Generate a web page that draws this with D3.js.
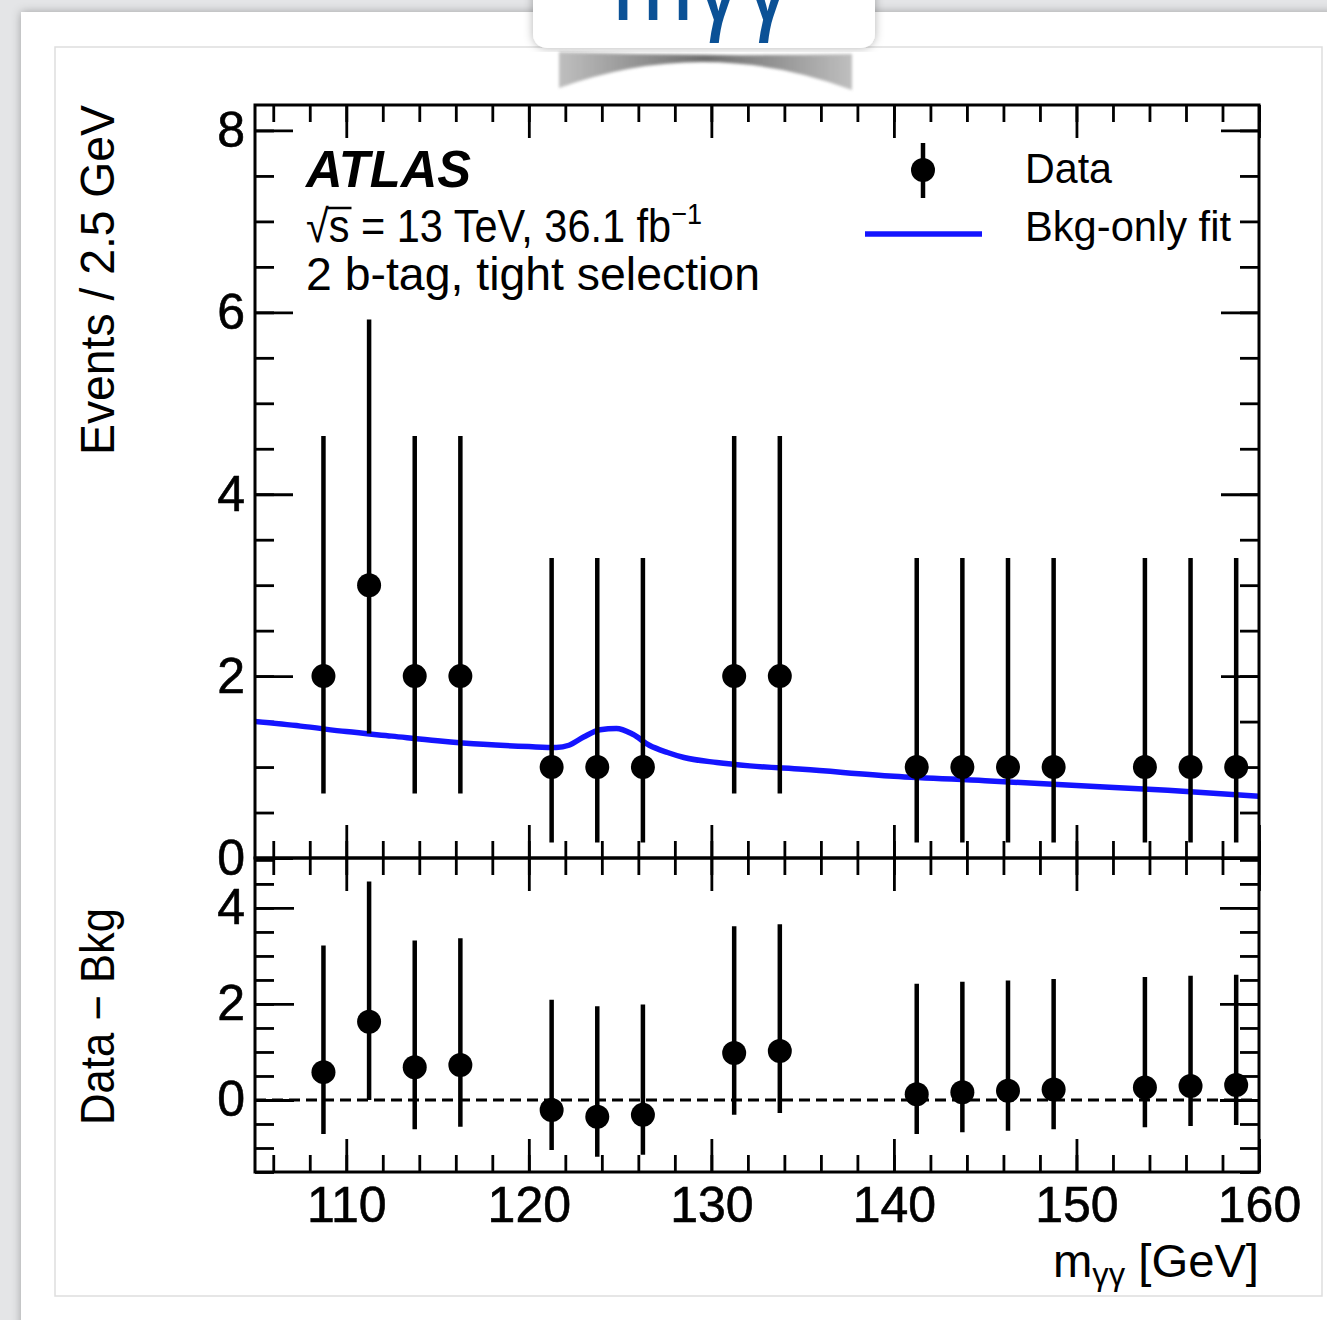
<!DOCTYPE html>
<html>
<head>
<meta charset="utf-8">
<script src="https://cdn.jsdelivr.net/npm/d3@7"></script>
<style>
  body { margin: 0; background: #e4e5e7; }
  svg { display: block; }
</style>
</head>
<body>
<div id="chart"></div>
<script>
// data points per 2.5 GeV bin (empty bins are not drawn)
const binCenters = [108.75, 111.25, 113.75, 116.25, 121.25, 123.75, 126.25, 131.25, 133.75,
                    141.25, 143.75, 146.25, 148.75, 153.75, 156.25, 158.75];
const counts = [2, 3, 2, 2, 1, 1, 1, 2, 2, 1, 1, 1, 1, 1, 1, 1];
const errDown = [1.29, 1.63, 1.29, 1.29, 0.83, 0.83, 0.83, 1.29, 1.29, 0.83, 0.83, 0.83, 0.83, 0.83, 0.83, 0.83];
const errUp = [2.64, 2.92, 2.64, 2.64, 2.30, 2.30, 2.30, 2.64, 2.64, 2.30, 2.30, 2.30, 2.30, 2.30, 2.30, 2.30];
// lower panel: data - bkg
const dataMinusBkg = [0.58, 1.63, 0.68, 0.73, -0.21, -0.35, -0.31, 0.98, 1.02,
                      0.12, 0.16, 0.19, 0.22, 0.26, 0.29, 0.31];
// background-only fit
const fitMass = [105, 107.5, 110, 112.5, 115, 117.5, 120, 121.5, 122.2, 123, 123.9, 124.8, 125.7,
                 126.6, 127.6, 128.5, 130.3, 132.1, 135, 140, 145, 150, 155, 160];
const fitValue = [1.50, 1.45, 1.39, 1.34, 1.29, 1.25, 1.225, 1.215, 1.24, 1.33, 1.41, 1.425, 1.36,
                  1.24, 1.16, 1.105, 1.05, 1.013, 0.975, 0.90, 0.85, 0.797, 0.745, 0.68];

const xTicks = [110, 120, 130, 140, 150, 160];
const yTicksMain = [0, 2, 4, 6, 8];
const yTicksRatio = [0, 2, 4];

const FONT = '"Liberation Sans", Arial, Helvetica, sans-serif';
const W = 1327, H = 1320;
const padLeft = 255, padRight = 1259, padTop = 105, padSplit = 858, padBottom = 1172;

const svg = d3.select('#chart').append('svg')
  .attr('width', W)
  .attr('height', H)
  .style('font-family', FONT);

const defs = svg.append('defs');
const shadow = defs.append('filter').attr('id', 'shadow')
  .attr('x', '-5%').attr('y', '-5%').attr('width', '110%').attr('height', '110%');
shadow.append('feDropShadow').attr('dx', 0).attr('dy', 0)
  .attr('stdDeviation', 5).attr('flood-color', '#000').attr('flood-opacity', 0.3);
const soft = defs.append('filter').attr('id', 'soft');
soft.append('feGaussianBlur').attr('stdDeviation', 1.5);
const grad = defs.append('linearGradient').attr('id', 'tabShade');
grad.append('stop').attr('offset', '0%').attr('stop-color', '#b4b4b4');
grad.append('stop').attr('offset', '50%').attr('stop-color', '#555');
grad.append('stop').attr('offset', '100%').attr('stop-color', '#b4b4b4');
defs.append('clipPath').attr('id', 'mainClip')
  .append('rect').attr('x', padLeft).attr('y', padTop)
  .attr('width', padRight - padLeft).attr('height', padSplit - padTop);

// slide background, card and inner frame
svg.append('rect').attr('width', W).attr('height', H).attr('fill', '#e4e5e7');
svg.append('rect').attr('x', 21).attr('y', 12).attr('width', 1340).attr('height', 1340)
  .attr('fill', '#fff').attr('filter', 'url(#shadow)');
svg.append('rect').attr('x', 55).attr('y', 47).attr('width', 1267).attr('height', 1249)
  .attr('fill', '#fff').attr('stroke', '#dedede').attr('stroke-width', 1.5);

// title tab (cut off at the top)
svg.append('path')
  .attr('d', 'M559,52 Q705,57 852,54 L852,90 Q705,35 559,88 Z')
  .attr('fill', 'url(#tabShade)').attr('opacity', 0.85).attr('filter', 'url(#soft)');
svg.append('rect').attr('x', 533).attr('y', -20).attr('width', 342).attr('height', 68).attr('rx', 14)
  .attr('fill', '#fff').attr('filter', 'url(#shadow)');
svg.append('text').attr('x', 612).attr('y', 20)
  .attr('font-size', 110).attr('fill', '#0b5196')
  .attr('textLength', 180).attr('lengthAdjust', 'spacingAndGlyphs')
  .text('mγγ');

// scales
const x = d3.scaleLinear().domain([105, 160]).range([padLeft, padRight]);
const yMain = d3.scaleLinear().domain([0, 8.28]).range([padSplit, padTop]);
const yRatio = d3.scaleLinear().domain([-1.5, 5.04]).range([padBottom, padSplit]);

function styleAxis(g) {
  g.select('.domain').remove();
  g.attr('font-family', FONT).attr('font-size', 50);
  g.selectAll('line').attr('stroke', '#000').attr('stroke-width', 2.8);
  g.selectAll('text').attr('fill', '#000').attr('stroke', '#000').attr('stroke-width', 0.6);
}

function drawAxes(yScale, yTicks, yMinor, yLen, showXLabels) {
  const [y0, y1] = yScale.range();
  const xMinor = d3.range(106, 160.01, 2);
  // x ticks, top and bottom, pointing inwards
  svg.append('g').attr('transform', `translate(0,${y1})`)
    .call(d3.axisTop(x).tickValues(xTicks).tickSize(-33).tickFormat('')).call(styleAxis);
  svg.append('g').attr('transform', `translate(0,${y1})`)
    .call(d3.axisTop(x).tickValues(xMinor).tickSize(-17).tickFormat('')).call(styleAxis);
  svg.append('g').attr('transform', `translate(0,${y0})`)
    .call(d3.axisBottom(x).tickValues(xTicks).tickSize(-33).tickPadding(14)
      .tickFormat(showXLabels ? d3.format('d') : '')).call(styleAxis);
  svg.append('g').attr('transform', `translate(0,${y0})`)
    .call(d3.axisBottom(x).tickValues(xMinor).tickSize(-17).tickFormat('')).call(styleAxis);
  // y ticks, left with labels and right without
  svg.append('g').attr('transform', `translate(${padLeft},0)`)
    .call(d3.axisLeft(yScale).tickValues(yTicks).tickSize(-yLen).tickPadding(10).tickFormat(d3.format('d')))
    .call(styleAxis);
  svg.append('g').attr('transform', `translate(${padLeft},0)`)
    .call(d3.axisLeft(yScale).tickValues(yMinor).tickSize(-19).tickFormat('')).call(styleAxis);
  svg.append('g').attr('transform', `translate(${padRight},0)`)
    .call(d3.axisRight(yScale).tickValues(yTicks).tickSize(-yLen).tickFormat('')).call(styleAxis);
  svg.append('g').attr('transform', `translate(${padRight},0)`)
    .call(d3.axisRight(yScale).tickValues(yMinor).tickSize(-19).tickFormat('')).call(styleAxis);
}

drawAxes(yMain, yTicksMain, d3.range(0, 8.01, 0.5), 38, false);
drawAxes(yRatio, yTicksRatio, d3.range(-1.5, 5.01, 0.5), 39, true);

// fit curve
const fitPoints = fitMass.map((m, i) => [m, fitValue[i]]);
svg.append('path')
  .datum(fitPoints)
  .attr('clip-path', 'url(#mainClip)')
  .attr('fill', 'none')
  .attr('stroke', '#1414ff')
  .attr('stroke-width', 5.5)
  .attr('d', d3.line().x(d => x(d[0])).y(d => yMain(d[1])).curve(d3.curveMonotoneX));

// zero line in the lower panel
svg.append('line')
  .attr('x1', x(105)).attr('x2', x(160))
  .attr('y1', yRatio(0)).attr('y2', yRatio(0))
  .attr('stroke', '#000').attr('stroke-width', 3).attr('stroke-dasharray', '11,6');

function drawPoints(values, yScale) {
  const g = svg.append('g');
  g.selectAll('line').data(values).join('line')
    .attr('x1', (d, i) => x(binCenters[i])).attr('x2', (d, i) => x(binCenters[i]))
    .attr('y1', (d, i) => yScale(d - errDown[i]))
    .attr('y2', (d, i) => yScale(d + errUp[i]))
    .attr('stroke', '#000').attr('stroke-width', 4.5);
  g.selectAll('circle').data(values).join('circle')
    .attr('cx', (d, i) => x(binCenters[i]))
    .attr('cy', d => yScale(d))
    .attr('r', 12)
    .attr('fill', '#000');
}
drawPoints(counts, yMain);
drawPoints(dataMinusBkg, yRatio);

// frames
svg.append('rect').attr('x', padLeft).attr('y', padTop)
  .attr('width', padRight - padLeft).attr('height', padSplit - padTop)
  .attr('fill', 'none').attr('stroke', '#000').attr('stroke-width', 3);
svg.append('rect').attr('x', padLeft).attr('y', padSplit)
  .attr('width', padRight - padLeft).attr('height', padBottom - padSplit)
  .attr('fill', 'none').attr('stroke', '#000').attr('stroke-width', 3);

// axis titles
svg.append('text')
  .attr('transform', `translate(114,${padTop}) rotate(-90)`)
  .attr('text-anchor', 'end').attr('font-size', 48)
  .attr('textLength', 350).attr('lengthAdjust', 'spacingAndGlyphs')
  .text('Events / 2.5 GeV');
svg.append('text')
  .attr('transform', `translate(114,${yRatio(4)}) rotate(-90)`)
  .attr('text-anchor', 'end').attr('font-size', 48)
  .attr('textLength', 217).attr('lengthAdjust', 'spacingAndGlyphs')
  .text('Data − Bkg');
const xTitle = svg.append('text')
  .attr('x', padRight).attr('y', 1277)
  .attr('text-anchor', 'end').attr('font-size', 46)
  .attr('textLength', 206).attr('lengthAdjust', 'spacingAndGlyphs');
xTitle.append('tspan').text('m');
xTitle.append('tspan').attr('font-size', 32).attr('dy', 8).text('γγ');
xTitle.append('tspan').attr('dy', -8).text(' [GeV]');

// ATLAS labels
svg.append('text').attr('x', 306).attr('y', 187)
  .attr('font-size', 51).attr('font-weight', 'bold').attr('font-style', 'italic')
  .attr('textLength', 165).attr('lengthAdjust', 'spacingAndGlyphs')
  .text('ATLAS');
const lumi = svg.append('text').attr('x', 306).attr('y', 242)
  .attr('font-size', 46)
  .attr('textLength', 396).attr('lengthAdjust', 'spacingAndGlyphs');
lumi.append('tspan').text('√s = 13 TeV, 36.1 fb');
lumi.append('tspan').attr('font-size', 30).attr('dy', -18).text('−1');
const rad = lumi.node().getExtentOfChar(0);
const sChar = lumi.node().getExtentOfChar(1);
svg.append('line')
  .attr('x1', rad.x + rad.width - 1).attr('x2', sChar.x + sChar.width + 2)
  .attr('y1', 208).attr('y2', 208)
  .attr('stroke', '#000').attr('stroke-width', 2.5);
svg.append('text').attr('x', 306).attr('y', 290)
  .attr('font-size', 46)
  .attr('textLength', 454).attr('lengthAdjust', 'spacingAndGlyphs')
  .text('2 b-tag, tight selection');

// legend
svg.append('line').attr('x1', 923).attr('x2', 923).attr('y1', 143).attr('y2', 198)
  .attr('stroke', '#000').attr('stroke-width', 4.5);
svg.append('circle').attr('cx', 923).attr('cy', 170).attr('r', 12).attr('fill', '#000');
svg.append('line').attr('x1', 865).attr('x2', 982).attr('y1', 234).attr('y2', 234)
  .attr('stroke', '#1414ff').attr('stroke-width', 5.5);
svg.append('text').attr('x', 1025).attr('y', 183).attr('font-size', 43)
  .attr('textLength', 87).attr('lengthAdjust', 'spacingAndGlyphs').text('Data');
svg.append('text').attr('x', 1025).attr('y', 241).attr('font-size', 43)
  .attr('textLength', 206).attr('lengthAdjust', 'spacingAndGlyphs').text('Bkg-only fit');
</script>
</body>
</html>
